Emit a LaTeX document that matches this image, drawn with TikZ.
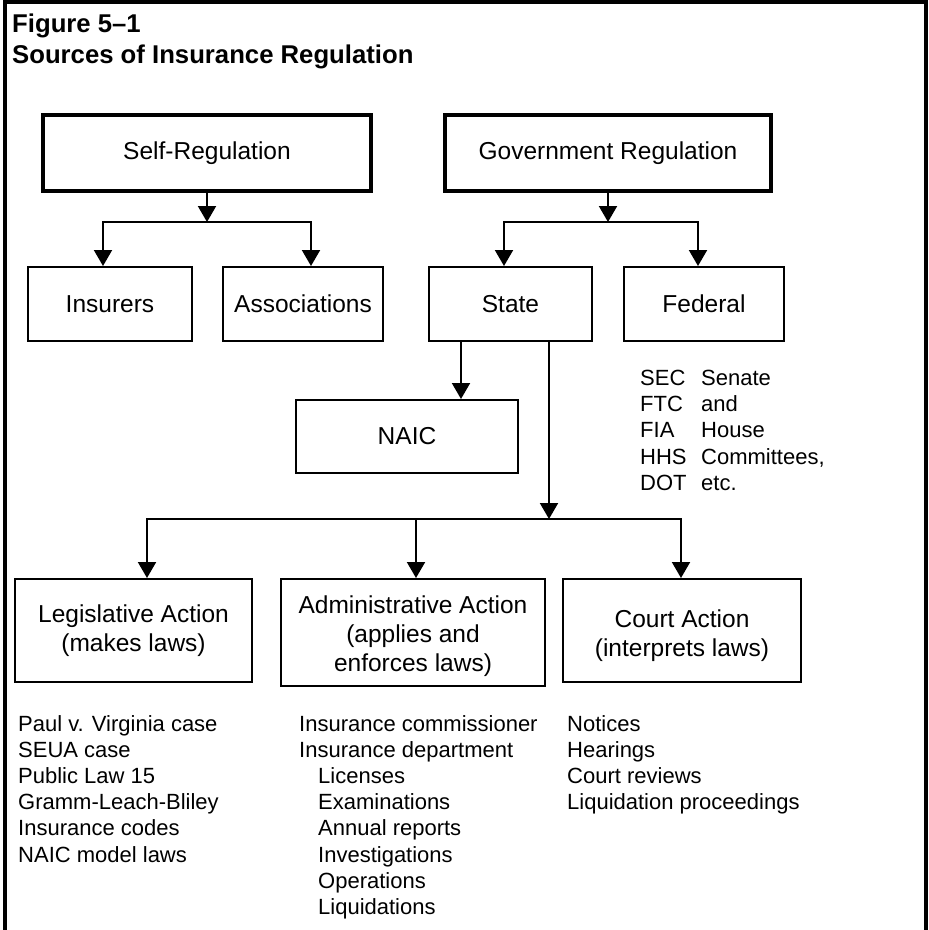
\documentclass[tikz,border=0pt]{standalone}
\usepackage{fontspec}
\setmainfont{Liberation Sans}
\usetikzlibrary{arrows.meta}
\begin{document}
\begin{tikzpicture}[x=1pt,y=-1pt,
  box/.style={draw, line width=2pt, rectangle, inner sep=0pt, align=center, font=\fontsize{24.5}{29}\selectfont},
  topbox/.style={box, line width=3.5pt},
  conn/.style={line width=2pt},
  arr/.style={conn, -{Triangle[length=16pt,width=18pt]}},
  lst/.style={anchor=north west, inner sep=0pt, align=left, font=\fontsize{22}{26.2}\selectfont},
  ttl/.style={anchor=base west, inner sep=0pt, font=\fontsize{25.7}{31}\selectfont\bfseries}]
\useasboundingbox (0,0) rectangle (929,930);
% frame
\draw[line width=3.5pt] (5,935) -- (5,1.75) -- (926,1.75) -- (926,935);
% title
\node[ttl] (t1) at (12,32) {Figure 5–1};
\node[ttl] (t2) at (12,63) {Sources of Insurance Regulation};
% boxes
\node[topbox, minimum width=328pt, minimum height=76pt] (self) at (207,153) {Self-Regulation};
\node[topbox, minimum width=326pt, minimum height=76pt] (gov) at (608,153) {Government Regulation};
\node[box, minimum width=164pt, minimum height=74pt] (ins) at (110,304) {Insurers};
\node[box, minimum width=160pt, minimum height=74pt] (assoc) at (303,304) {Associations};
\node[box, minimum width=163pt, minimum height=74pt] (state) at (510.5,304) {State};
\node[box, minimum width=160pt, minimum height=74pt] (fed) at (704,304) {Federal};
\node[box, minimum width=222pt, minimum height=73pt] (naic) at (407,436.5) {NAIC};
\node[box, minimum width=237pt, minimum height=103pt] (leg) at (133.5,630.5) {Legislative Action\\(makes laws)};
\node[box, minimum width=264pt, minimum height=107pt] (adm) at (413,632.5) {\rule{0pt}{26pt}Administrative Action\\(applies and\\enforces laws)};
\node[box, minimum width=238pt, minimum height=103pt] (court) at (682,630.5) {\rule{0pt}{28pt}Court Action\\(interprets laws)};
% connectors: self-regulation
\coordinate (sj) at (207,222);
\draw[arr] (self.south) -- (sj);
\draw[arr] (sj) -| ([xshift=-7pt]ins.north);
\draw[arr] (sj) -| ([xshift=8pt]assoc.north);
% government regulation
\coordinate (gj) at (608,222);
\draw[arr] (gov.south) -- (gj);
\draw[arr] (gj) -| ([xshift=-6.5pt]state.north);
\draw[arr] (gj) -| ([xshift=-6pt]fed.north);
% state
\coordinate (sn) at ([xshift=-49.5pt]state.south);
\draw[arr] (sn) -- (sn |- naic.north);
\coordinate (cj) at (549,519);
\draw[arr] ([xshift=38.5pt]state.south) -- (cj);
\coordinate (am) at ([xshift=3pt]adm.north);
\draw[arr] (cj) -| ([xshift=13.5pt]leg.north);
\draw[arr] (cj) -| ([xshift=-1pt]court.north);
\draw[arr] (am |- cj) -- (am);
% federal list
\node[lst] (fl1) at (640,370) {SEC\\FTC\\FIA\\HHS\\DOT};
\node[lst] (fl2) at (701,370) {Senate\\and\\House\\Committees,\\etc.};
% lists
\node[lst] (legl) at (18,715) {Paul v. Virginia case\\SEUA case\\Public Law 15\\Gramm-Leach-Bliley\\Insurance codes\\NAIC model laws};
\node[lst] (adml) at (299,715) {Insurance commissioner\\Insurance department\\\hspace*{19pt}Licenses\\\hspace*{19pt}Examinations\\\hspace*{19pt}Annual reports\\\hspace*{19pt}Investigations\\\hspace*{19pt}Operations\\\hspace*{19pt}Liquidations};
\node[lst] (courtl) at (567,715) {Notices\\Hearings\\Court reviews\\Liquidation proceedings};
\end{tikzpicture}
\end{document}
